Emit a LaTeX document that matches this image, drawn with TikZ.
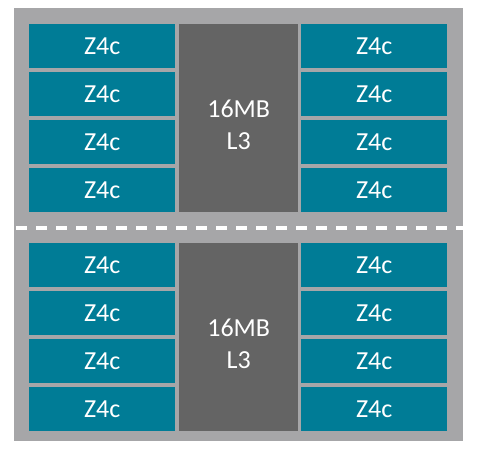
\documentclass[tikz,border=0pt]{standalone}
\usepackage{fontspec}
\setmainfont{Carlito}
\definecolor{corecol}{HTML}{007C96}
\definecolor{outercol}{HTML}{A6A6A8}
\definecolor{l3col}{HTML}{646464}
\begin{document}
\begin{tikzpicture}[x=1pt,y=-1pt,
  core/.style={fill=corecol,draw=none,minimum width=146pt,minimum height=44pt,inner sep=0pt,anchor=north west,text=white,font=\fontsize{26}{30}\selectfont},
  cache/.style={fill=l3col,draw=none,minimum width=119pt,minimum height=188pt,inner sep=0pt,anchor=north west},
  cachelabel/.style={text=white,align=center,inner sep=0pt,font=\fontsize{26}{32}\selectfont}]
\useasboundingbox (0,0) rectangle (479,453);
\fill[white] (0,0) rectangle (479,453);
\node[fill=outercol,minimum width=449pt,minimum height=433pt,inner sep=0pt,anchor=north west] (chip) at (14,8) {};
% top half
\foreach \i/\y in {1/24,2/72,3/120,4/168}{
  \node[core] (tl\i) at (29,\y) {Z4c};
  \node[core] (tr\i) at (301,\y) {Z4c};
}
\node[cache] (l3top) at (179,24) {};
\node[cachelabel] (l3toplabel) at ([yshift=-7pt]l3top.center) {16MB\\L3};
% bottom half
\foreach \i/\y in {1/243,2/291,3/339,4/387}{
  \node[core] (bl\i) at (29,\y) {Z4c};
  \node[core] (br\i) at (301,\y) {Z4c};
}
\node[cache] (l3bot) at (179,243) {};
\node[cachelabel] (l3botlabel) at ([yshift=-7pt]l3bot.center) {16MB\\L3};
\coordinate (dl) at (16,227.5);
\coordinate (dr) at (463,227.5);
\draw[white,line width=4pt,dash pattern=on 11pt off 9pt] (dl) -- (dr);
\end{tikzpicture}
\end{document}
